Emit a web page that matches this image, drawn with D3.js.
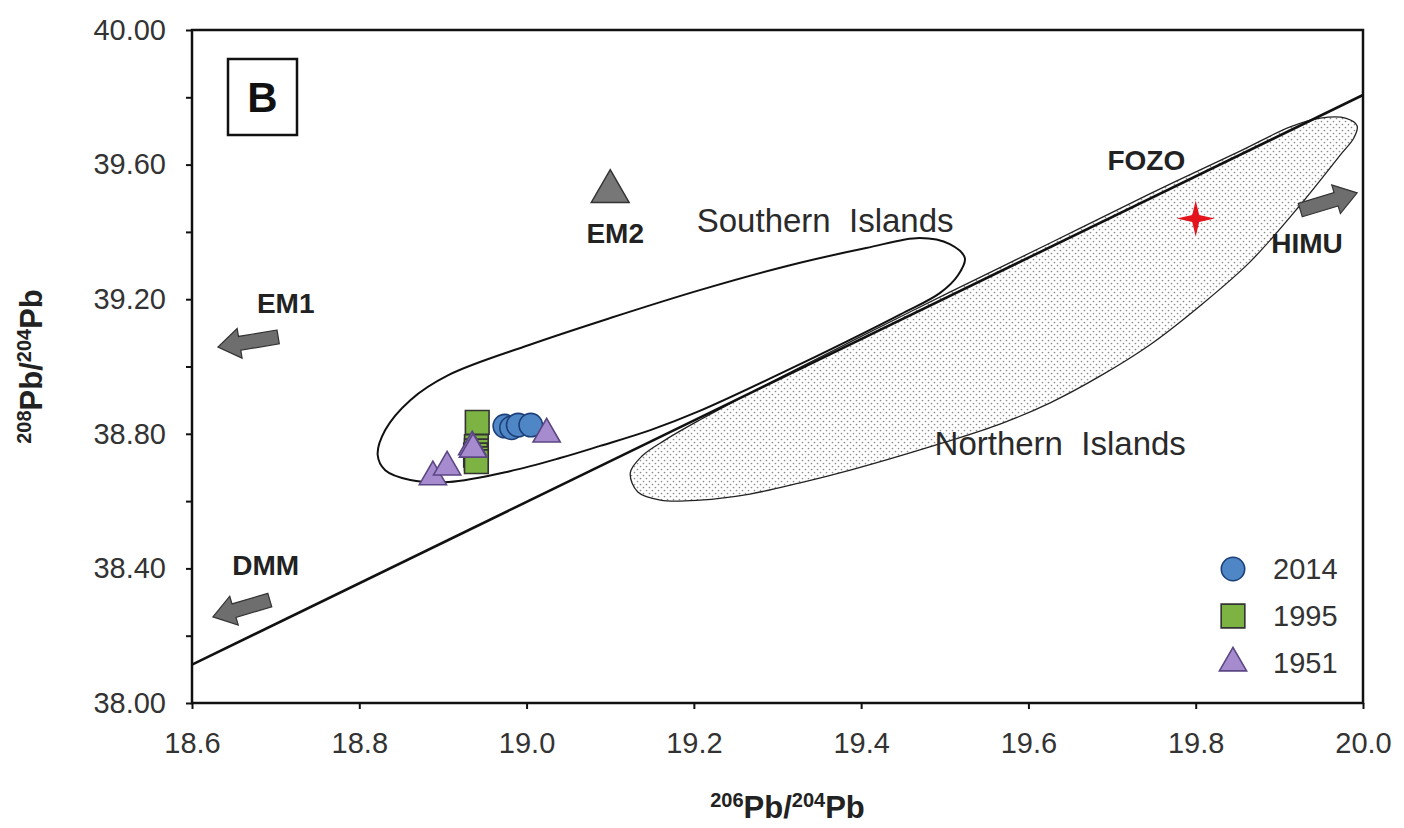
<!DOCTYPE html>
<html>
<head>
<meta charset="utf-8">
<script src="https://cdnjs.cloudflare.com/ajax/libs/d3/7.8.5/d3.min.js"></script>
<style>
  body { margin: 0; background: #fff; }
  text { font-family: "Liberation Sans", Arial, sans-serif; }
</style>
</head>
<body>
<div class="chart"></div>
<script>
/* global d3 */

// --- values (206Pb/204Pb, 208Pb/204Pb) ---
var pts_2014 = [[18.974, 38.823], [18.982, 38.818], [18.990, 38.826], [19.005, 38.826]];
var pts_1995 = [[18.941, 38.834], [18.940, 38.762], [18.940, 38.749], [18.939, 38.737],
                [18.940, 38.726], [18.940, 38.717]];
var pts_1951 = [[18.888, 38.672], [18.905, 38.701], [18.935, 38.761], [18.936, 38.754], [19.024, 38.799]];
var em2_point = [19.10, 39.52];
var star_point = [19.80, 39.44];

// reference line, end points
var nhrl = [[18.6, 38.114], [20.0, 39.807]];

// envelope outlines
var southern = [
  [18.822, 38.737], [18.831, 38.811], [18.861, 38.900], [18.907, 38.975], [19.003, 39.064],
  [19.100, 39.144], [19.207, 39.227], [19.315, 39.301], [19.406, 39.352], [19.470, 39.382],
  [19.506, 39.364], [19.524, 39.322], [19.516, 39.272], [19.494, 39.218], [19.447, 39.155],
  [19.327, 39.007], [19.207, 38.868], [19.148, 38.811], [19.088, 38.764], [19.040, 38.728],
  [18.980, 38.689], [18.907, 38.657], [18.861, 38.663], [18.831, 38.692]
];
var northern = [
  [19.124, 38.684], [19.138, 38.734], [19.166, 38.782], [19.207, 38.841], [19.267, 38.921],
  [19.387, 39.073], [19.506, 39.221], [19.626, 39.367], [19.745, 39.513], [19.853, 39.640],
  [19.913, 39.712], [19.949, 39.738], [19.979, 39.738], [19.993, 39.715], [19.989, 39.679],
  [19.973, 39.629], [19.925, 39.480], [19.865, 39.311], [19.805, 39.180], [19.745, 39.064],
  [19.686, 38.972], [19.626, 38.892], [19.566, 38.829], [19.482, 38.761], [19.387, 38.692],
  [19.327, 38.654], [19.267, 38.621], [19.207, 38.603], [19.160, 38.603], [19.133, 38.627]
];

// end-member arrows: tail -> tip
var arrows = [
  { name: "EM1",  from: [18.703, 39.088], to: [18.631, 39.058] },
  { name: "DMM",  from: [18.693, 38.306], to: [18.625, 38.256] },
  { name: "HIMU", from: [19.925, 39.465], to: [19.993, 39.516] }
];

var labels = [
  { text: "Southern  Islands", x: 19.357, y: 39.400, bold: false },
  { text: "Northern  Islands", x: 19.638, y: 38.737, bold: false },
  { text: "EM1",  x: 18.712, y: 39.159, bold: true },
  { text: "DMM",  x: 18.688, y: 38.380, bold: true },
  { text: "EM2",  x: 19.106, y: 39.367, bold: true },
  { text: "HIMU", x: 19.933, y: 39.337, bold: true },
  { text: "FOZO", x: 19.741, y: 39.584, bold: true }
];

var x_ticks = [18.6, 18.8, 19.0, 19.2, 19.4, 19.6, 19.8, 20.0];
var y_ticks = [38.0, 38.2, 38.4, 38.6, 38.8, 39.0, 39.2, 39.4, 39.6, 39.8, 40.0];
var y_labeled = [38.0, 38.4, 38.8, 39.2, 39.6, 40.0];
var legend_names = ["2014", "1995", "1951"];

make_chart();

function make_chart() {
  var chart_width = 1404, chart_height = 828;
  var margin = { top: 30, right: 41, bottom: 125, left: 192 };
  var width = chart_width - margin.left - margin.right;
  var height = chart_height - margin.top - margin.bottom;

  var svg = d3.select(".chart").append("svg")
    .attr("width", chart_width)
    .attr("height", chart_height);

  // stipple for the northern field
  var pat = svg.append("defs").append("pattern")
    .attr("id", "stipple")
    .attr("patternUnits", "userSpaceOnUse")
    .attr("width", 6).attr("height", 6);
  pat.append("circle").attr("cx", 1.5).attr("cy", 1.5).attr("r", 0.85).attr("fill", "#8a8a8a");
  pat.append("circle").attr("cx", 4.5).attr("cy", 4.5).attr("r", 0.85).attr("fill", "#8a8a8a");

  var g = svg.append("g")
    .attr("transform", "translate(" + margin.left + "," + margin.top + ")");

  var x = d3.scaleLinear().domain([18.6, 20.0]).range([0, width]);
  var y = d3.scaleLinear().domain([38.0, 40.0]).range([height, 0]);

  // axes
  var xAxis = g.append("g")
    .attr("transform", "translate(0," + height + ")")
    .call(d3.axisBottom(x).tickValues(x_ticks).tickSize(6).tickSizeOuter(0).tickPadding(23)
      .tickFormat(d3.format(".1f")));
  var yAxis = g.append("g")
    .call(d3.axisLeft(y).tickValues(y_ticks).tickSize(6).tickSizeOuter(0).tickPadding(20)
      .tickFormat(function(d) {
        var on = y_labeled.some(function(v) { return Math.abs(v - d) < 1e-6; });
        return on ? d.toFixed(2) : "";
      }));
  [xAxis, yAxis].forEach(function(a) {
    a.select(".domain").remove();
    a.selectAll(".tick line").attr("stroke", "#111").attr("stroke-width", 2);
    a.selectAll(".tick text")
      .attr("fill", "#333")
      .style("font-size", "29px")
      .style("font-family", "'Liberation Sans', Arial, sans-serif");
  });

  var line = d3.line().x(function(d) { return x(d[0]); }).y(function(d) { return y(d[1]); });
  var loop = d3.line().x(function(d) { return x(d[0]); }).y(function(d) { return y(d[1]); })
    .curve(d3.curveCatmullRomClosed.alpha(0.5));

  var clip = g.append("clipPath").attr("id", "plotclip");
  clip.append("rect").attr("width", width).attr("height", height);
  var plot = g.append("g").attr("clip-path", "url(#plotclip)");

  // northern islands field
  plot.append("path")
    .attr("d", loop(northern))
    .attr("fill", "url(#stipple)")
    .attr("stroke", "#222")
    .attr("stroke-width", 1.3);

  // southern islands field
  plot.append("path")
    .attr("d", loop(southern))
    .attr("fill", "none")
    .attr("stroke", "#111")
    .attr("stroke-width", 2);

  // NHRL
  plot.append("path")
    .attr("d", line(nhrl))
    .attr("fill", "none")
    .attr("stroke", "#111")
    .attr("stroke-width", 2.6);

  // arrows towards end members
  plot.selectAll(".arrow")
    .data(arrows)
    .enter().append("path")
    .attr("class", "arrow")
    .attr("d", function(d) { return block_arrow([x(d.from[0]), y(d.from[1])], [x(d.to[0]), y(d.to[1])]); })
    .attr("fill", "#6e6e6e")
    .attr("stroke", "#333")
    .attr("stroke-width", 1.2);

  // EM2
  plot.append("path")
    .attr("transform", "translate(" + x(em2_point[0]) + "," + y(em2_point[1]) + ")")
    .attr("d", d3.symbol().type(d3.symbolTriangle).size(620)())
    .attr("fill", "#777")
    .attr("stroke", "#333")
    .attr("stroke-width", 1.5);

  // red star
  var star4 = {
    draw: function(ctx, size) {
      var rx = 19, ry = 18, ri = 3.5;
      ctx.moveTo(0, -ry);
      ctx.lineTo(ri, -ri);
      ctx.lineTo(rx, 0);
      ctx.lineTo(ri, ri);
      ctx.lineTo(0, ry);
      ctx.lineTo(-ri, ri);
      ctx.lineTo(-rx, 0);
      ctx.lineTo(-ri, -ri);
      ctx.closePath();
    }
  };
  plot.append("path")
    .attr("transform", "translate(" + x(star_point[0]) + "," + y(star_point[1]) + ")")
    .attr("d", d3.symbol().type(star4)())
    .attr("fill", "#e3141c");

  // samples
  var styles = {
    "2014": { type: d3.symbolCircle, size: 430, fill: "#4f86c6", stroke: "#1d3f78" },
    "1995": { type: d3.symbolSquare, size: 560, fill: "#7cb342", stroke: "#333" },
    "1951": { type: d3.symbolTriangle, size: 320, fill: "#a68ccf", stroke: "#5b4684" }
  };
  var series = [["1995", pts_1995], ["2014", pts_2014], ["1951", pts_1951]];
  series.forEach(function(s) {
    var st = styles[s[0]];
    plot.selectAll(".pt" + s[0])
      .data(s[1])
      .enter().append("path")
      .attr("class", "pt" + s[0])
      .attr("transform", function(d) { return "translate(" + x(d[0]) + "," + y(d[1]) + ")"; })
      .attr("d", d3.symbol().type(st.type).size(st.size)())
      .attr("fill", st.fill)
      .attr("stroke", st.stroke)
      .attr("stroke-width", 1.6);
  });

  // text labels
  g.selectAll(".lbl")
    .data(labels)
    .enter().append("text")
    .attr("class", "lbl")
    .attr("x", function(d) { return x(d.x); })
    .attr("y", function(d) { return y(d.y); })
    .attr("text-anchor", "middle")
    .style("white-space", "pre")
    .style("font-size", function(d) { return d.bold ? "28px" : "33px"; })
    .style("font-weight", function(d) { return d.bold ? "bold" : "normal"; })
    .attr("fill", function(d) { return d.bold ? "#222" : "#2a2a2a"; })
    .text(function(d) { return d.text; });

  // frame
  g.append("rect")
    .attr("width", width).attr("height", height)
    .attr("fill", "none")
    .attr("stroke", "#111")
    .attr("stroke-width", 2.5);

  // panel label
  g.append("rect")
    .attr("x", 36).attr("y", 29).attr("width", 69).attr("height", 76)
    .attr("fill", "#fff").attr("stroke", "#111").attr("stroke-width", 2.5);
  g.append("text")
    .attr("x", 70.5).attr("y", 82)
    .attr("text-anchor", "middle")
    .style("font-size", "42px").style("font-weight", "bold")
    .attr("fill", "#111")
    .text("B");

  // legend
  var legend = g.append("g").attr("transform", "translate(" + (width - 130) + "," + (height - 134) + ")");
  var items = legend.selectAll(".leg")
    .data(legend_names)
    .enter().append("g")
    .attr("class", "leg")
    .attr("transform", function(d, i) { return "translate(0," + (i * 47) + ")"; });
  items.append("path")
    .attr("d", function(d) { return d3.symbol().type(styles[d].type).size(styles[d].size)(); })
    .attr("fill", function(d) { return styles[d].fill; })
    .attr("stroke", function(d) { return styles[d].stroke; })
    .attr("stroke-width", 1.6);
  items.append("text")
    .attr("x", 40).attr("y", 10)
    .style("font-size", "29px")
    .attr("fill", "#333")
    .text(function(d) { return d; });

  // axis titles
  var xt = svg.append("text")
    .attr("x", margin.left + x(19.3) + 10)
    .attr("y", 818)
    .attr("text-anchor", "middle")
    .style("font-weight", "bold")
    .attr("fill", "#222");
  iso_title(xt, "206");

  var yt = svg.append("text")
    .attr("transform", "translate(42," + (margin.top + y(39.0)) + ") rotate(-90)")
    .attr("text-anchor", "middle")
    .style("font-weight", "bold")
    .attr("fill", "#222");
  iso_title(yt, "208");
}

function iso_title(t, top) {
  t.append("tspan").style("font-size", "20px").attr("dy", "-11").text(top);
  t.append("tspan").style("font-size", "31px").attr("dy", "11").text("Pb/");
  t.append("tspan").style("font-size", "20px").attr("dy", "-11").text("204");
  t.append("tspan").style("font-size", "31px").attr("dy", "11").text("Pb");
}

function block_arrow(p0, p1) {
  var dx = p1[0] - p0[0], dy = p1[1] - p0[1];
  var L = Math.sqrt(dx * dx + dy * dy);
  var ux = dx / L, uy = dy / L, nx = -uy, ny = ux;
  var hl = 22, sw = 7, hw = 15;
  var bx = p1[0] - ux * hl, by = p1[1] - uy * hl;
  var p = d3.path();
  p.moveTo(p0[0] + nx * sw, p0[1] + ny * sw);
  p.lineTo(bx + nx * sw, by + ny * sw);
  p.lineTo(bx + nx * hw, by + ny * hw);
  p.lineTo(p1[0], p1[1]);
  p.lineTo(bx - nx * hw, by - ny * hw);
  p.lineTo(bx - nx * sw, by - ny * sw);
  p.lineTo(p0[0] - nx * sw, p0[1] - ny * sw);
  p.closePath();
  return p.toString();
}
</script>
</body>
</html>
